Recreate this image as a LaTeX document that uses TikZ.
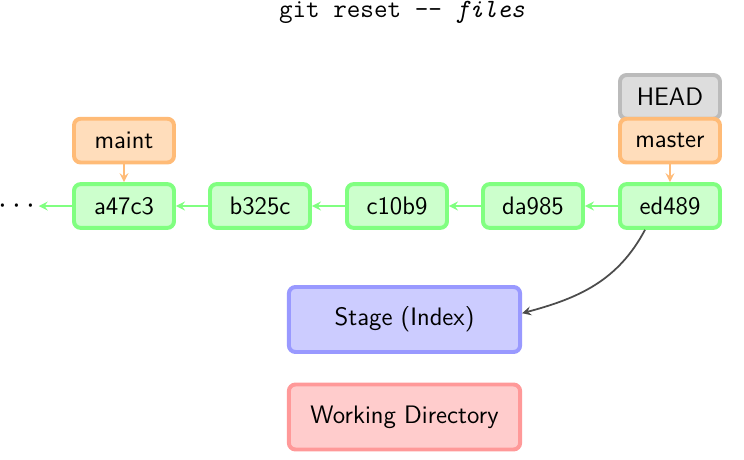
\documentclass[tikz,border=0pt]{standalone}
\usepackage{tikz}
\renewcommand{\familydefault}{\sfdefault}
\definecolor{commitfill}{HTML}{CCFFCC}
\definecolor{commitline}{HTML}{80FF80}
\definecolor{branchfill}{HTML}{FFDDBB}
\definecolor{branchline}{HTML}{FFBB77}
\definecolor{headfill}{HTML}{DDDDDD}
\definecolor{headline}{HTML}{BBBBBB}
\definecolor{stagefill}{HTML}{CCCCFF}
\definecolor{stageline}{HTML}{9999FF}
\definecolor{workfill}{HTML}{FFCCCC}
\definecolor{workline}{HTML}{FF9999}

\begin{document}
\begin{tikzpicture}[>=stealth, line width=1.8pt, font=\fontsize{11.5pt}{14pt}\selectfont,
    box/.style={rounded corners=3pt, minimum width=1.6cm, minimum height=0.7cm},
    commit/.style={box, draw=commitline, fill=commitfill},
    branch/.style={box, draw=branchline, fill=branchfill},
    head/.style={box, draw=headline, fill=headfill},
    area/.style={box, minimum width=3.7cm, minimum height=1.04cm}]
    \useasboundingbox (0,0) rectangle (11.904,-7.36);
    \node[font=\fontsize{12pt}{14pt}\selectfont\ttfamily, inner sep=1pt] (title) at (6.43,-0.2) {git reset -- \textit{files}};
    \node[head] (HEAD) at (10.72,-1.55) {HEAD};
    \node[branch] (master) at (10.72,-2.25) {master};
    \node[branch] (maint) at (1.984,-2.25) {maint};
    \node[commit] (a47c3) at (1.984,-3.296) {a47c3};
    \node[commit] (b325c) at (4.16,-3.296) {b325c};
    \node[commit] (c10b9) at (6.352,-3.296) {c10b9};
    \node[commit] (da985) at (8.528,-3.296) {da985};
    \node[commit] (ed489) at (10.72,-3.296) {ed489};
    \node[font=\Large, inner sep=1pt] (dots) at (0.27,-3.296) {$\cdots$};
    \coordinate (tail) at (0.62,-3.296);
    \node[area, draw=stageline, fill=stagefill] (stage) at (6.472,-5.112) {Stage (Index)};
    \node[area, draw=workline, fill=workfill] (work) at (6.472,-6.672) {Working Directory};
    \draw[->, commitline, line width=0.8pt] (ed489) -- (da985);
    \draw[->, commitline, line width=0.8pt] (da985) -- (c10b9);
    \draw[->, commitline, line width=0.8pt] (c10b9) -- (b325c);
    \draw[->, commitline, line width=0.8pt] (b325c) -- (a47c3);
    \draw[->, commitline, line width=0.8pt] (a47c3) -- (tail);
    \draw[->, branchline, line width=0.8pt] (maint) -- (a47c3);
    \draw[->, branchline, line width=0.8pt] (master) -- (ed489);
    \draw[->, black!70, line width=0.8pt] ([xshift=-0.4cm]ed489.south) to[out=-118, in=15] ([yshift=0.1cm]stage.east);
\end{tikzpicture}
\end{document}
